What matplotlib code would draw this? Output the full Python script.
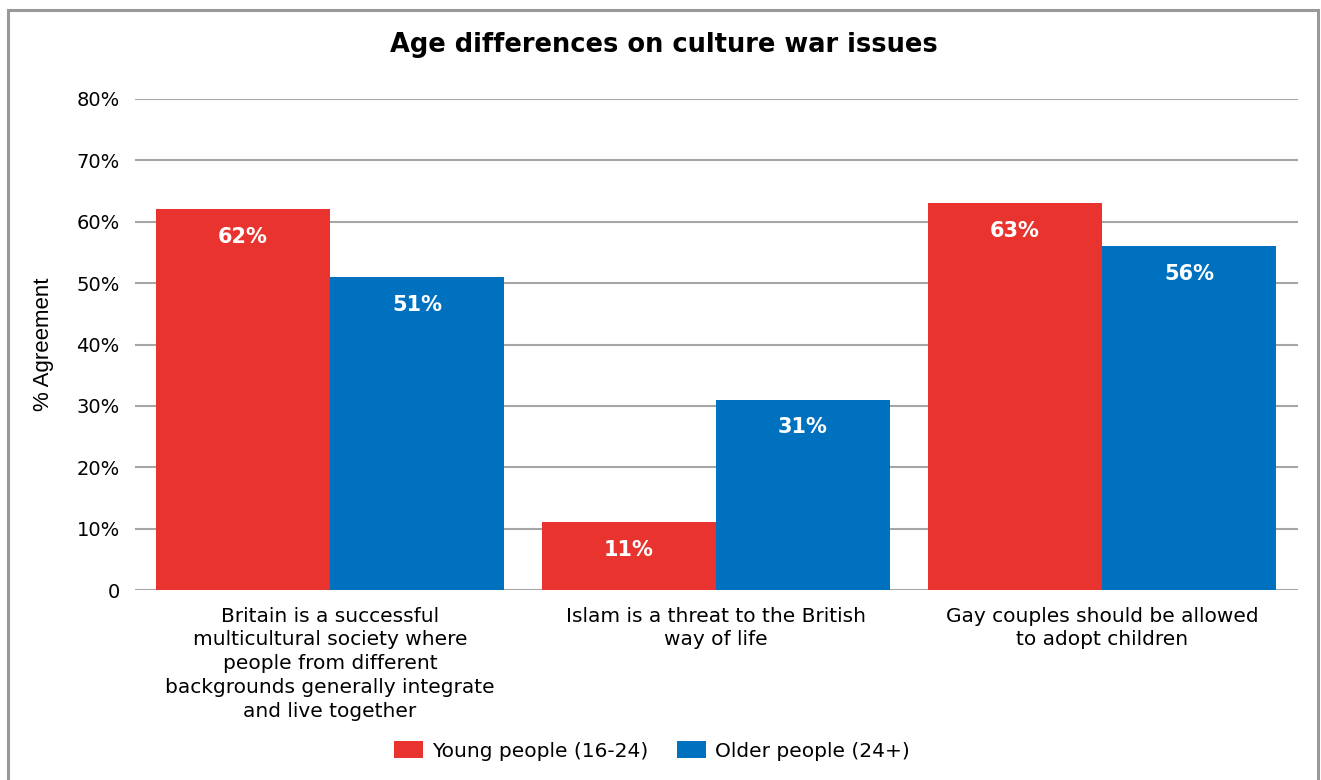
import numpy as np
import matplotlib
matplotlib.use("Agg")
import matplotlib.pyplot as plt
from matplotlib.patches import Rectangle

categories = [
    "Britain is a successful\nmulticultural society where\npeople from different\nbackgrounds generally integrate\nand live together",
    "Islam is a threat to the British\nway of life",
    "Gay couples should be allowed\nto adopt children",
]
young = [62, 11, 63]
older = [51, 31, 56]
series_names = ["Young people (16-24)", "Older people (24+)"]
yticks = [0, 10, 20, 30, 40, 50, 60, 70, 80]
ytick_labels = ["0"] + [f"{v}%" for v in yticks[1:]]

RED = "#E8332F"
BLUE = "#0071BF"
GRID = "#A6A6A6"
BODY_FONT = ["DejaVu Sans"]

fig = plt.figure(figsize=(13.21, 7.80), dpi=100)
ax = fig.add_axes([135 / 1321, 1 - 590 / 780, (1298 - 135) / 1321, (590 - 99) / 780])

x = np.arange(len(categories))
w = 174 / 386
bars_y = ax.bar(x - w / 2, young, width=w, color=RED, label=series_names[0], zorder=3)
bars_o = ax.bar(x + w / 2, older, width=w, color=BLUE, label=series_names[1], zorder=3)

# value labels inside the top of each bar
for bars, vals in ((bars_y, young), (bars_o, older)):
    for b, v in zip(bars, vals):
        ax.text(b.get_x() + b.get_width() / 2, v - 4.5, f"{v}%", ha="center", va="center",
                color="white", fontsize=15, fontweight="heavy", family=BODY_FONT,
                zorder=4)

ax.set_xlim(-0.505, 2.508)
ax.set_ylim(0, 80)
ax.set_yticks(yticks)
ax.set_yticklabels(ytick_labels, fontsize=14, family=BODY_FONT)
ax.yaxis.grid(True, color=GRID, linewidth=1.5, zorder=0)
ax.set_axisbelow(True)
ax.tick_params(axis="y", length=0, pad=11)
ax.tick_params(axis="x", length=0, pad=12)
ax.set_xticks(x)
ax.set_xticklabels(categories, fontsize=14.5, family=BODY_FONT, linespacing=1.32)
for s in ax.spines.values():
    s.set_visible(False)
ax.set_ylabel("% Agreement", fontsize=16, family=["Liberation Sans", "DejaVu Sans"], labelpad=16)

fig.text(664 / 1321, 1 - 45 / 780, "Age differences on culture war issues", ha="center", va="center",
         fontsize=18.5, fontweight="heavy", family=BODY_FONT)

fig.legend(handles=[bars_y, bars_o], labels=series_names, loc="center",
           bbox_to_anchor=(652 / 1321, 1 - 751 / 780), ncol=2, frameon=False,
           prop={"family": BODY_FONT, "size": 14.5}, handlelength=1.45, handleheight=0.85,
           handletextpad=0.45, columnspacing=1.4)

# outer frame
fig.patches.append(Rectangle((8 / 1321, -0.1), (1318 - 8) / 1321, 1.1 - 10 / 780,
                             transform=fig.transFigure, fill=False, edgecolor="#999999",
                             linewidth=2.2))

fig.savefig("out.png", dpi=100)
